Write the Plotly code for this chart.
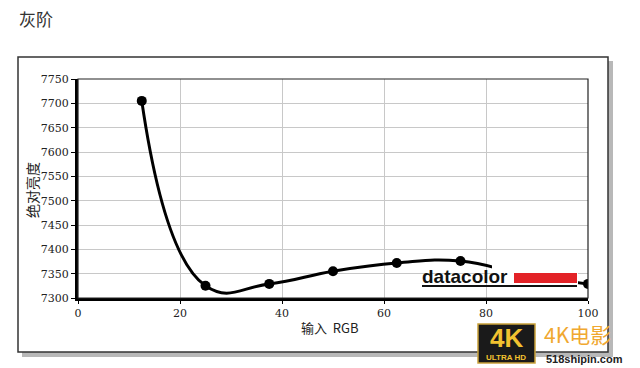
import plotly.graph_objects as go

x_vals = [12.5, 25, 37.5, 50, 62.5, 75, 87.5, 100]
y_vals = [7705, 7325, 7329, 7355, 7372, 7376, 7348, 7329]
x_ticks = [0, 20, 40, 60, 80, 100]
y_ticks = [7300, 7350, 7400, 7450, 7500, 7550, 7600, 7650, 7700, 7750]

W, H = 640, 368
L, R, T, B = 78, 588, 79, 298

def px(xp):
    return (xp - L) / (R - L)

def py(yp):
    return (B - yp) / (B - T)

fig = go.Figure()
fig.add_trace(go.Scatter(
    x=x_vals, y=y_vals, mode="lines+markers",
    line=dict(color="black", width=3, shape="spline", smoothing=1.3),
    marker=dict(color="black", size=10),
    cliponaxis=True, showlegend=False,
))

serif = "DejaVu Serif"
fig.update_layout(
    width=W, height=H,
    margin=dict(l=L, r=W - R, t=T, b=H - B),
    paper_bgcolor="white", plot_bgcolor="white",
    xaxis=dict(range=[0, 100], tickvals=x_ticks, showgrid=True, gridcolor="#c8c8c8",
               gridwidth=1, showline=True, linecolor="black", linewidth=3,
               ticks="outside", ticklen=3, tickcolor="black",
               tickfont=dict(family=serif, size=11, color="#222"), zeroline=False),
    yaxis=dict(range=[7300, 7750], tickvals=y_ticks, showgrid=True, gridcolor="#c8c8c8",
               gridwidth=1, showline=True, linecolor="black", linewidth=3,
               ticks="outside", ticklen=4, tickcolor="black",
               tickfont=dict(family=serif, size=11, color="#222"), zeroline=False),
    font=dict(family="Noto Sans CJK SC", color="#222"),
)

shapes = []
shapes.append(dict(type="rect", xref="paper", yref="paper", layer="below",
                   x0=px(22), x1=px(613), y0=py(357), y1=py(61),
                   fillcolor="#b8b8b8", line=dict(width=0)))
shapes.append(dict(type="rect", xref="paper", yref="paper", layer="below",
                   x0=px(18), x1=px(608), y0=py(352), y1=py(57),
                   fillcolor="white", line=dict(color="#333", width=1.5)))
shapes.append(dict(type="rect", xref="paper", yref="paper", layer="above",
                   x0=0, x1=1, y0=0, y1=1, line=dict(color="#222", width=1.2)))
shapes.append(dict(type="rect", xref="paper", yref="paper", layer="above",
                   x0=px(492), x1=px(578), y0=py(289), y1=py(264),
                   fillcolor="white", line=dict(width=0)))
shapes.append(dict(type="rect", xref="paper", yref="paper", layer="above",
                   x0=px(514), x1=px(577), y0=py(283), y1=py(273),
                   fillcolor="#e32227", line=dict(width=0)))
shapes.append(dict(type="line", xref="paper", yref="paper", layer="above",
                   x0=px(422), x1=px(577), y0=py(286), y1=py(286),
                   line=dict(color="#111", width=2)))
shapes.append(dict(type="rect", xref="paper", yref="paper", layer="above",
                   x0=px(478), x1=px(535), y0=py(363), y1=py(324),
                   fillcolor="#1a1a1a", line=dict(color="#c9a13a", width=1.5)))
fig.update_layout(shapes=shapes)

ann = []
ann.append(dict(text="灰阶", xref="paper", yref="paper", x=px(17), y=py(18),
                xanchor="left", yanchor="middle", showarrow=False,
                font=dict(family="Noto Sans CJK SC", size=17, color="#333")))
ann.append(dict(text="绝对亮度", xref="paper", yref="paper", x=px(32), y=py(190),
                xanchor="center", yanchor="middle", textangle=-90, showarrow=False,
                font=dict(family="Noto Sans CJK SC", size=14, color="#222")))
ann.append(dict(text="输入  RGB", xref="paper", yref="paper", x=px(330), y=py(327),
                xanchor="center", yanchor="middle", showarrow=False,
                font=dict(family="Noto Sans CJK SC", size=13, color="#222")))
ann.append(dict(text="<b>datacolor</b>", xref="paper", yref="paper", x=px(420), y=py(276),
                xanchor="left", yanchor="middle", showarrow=False,
                font=dict(family="Liberation Sans", size=19, color="#111")))
ann.append(dict(text="<b>4K</b>", xref="paper", yref="paper", x=px(506), y=py(338),
                xanchor="center", yanchor="middle", showarrow=False,
                font=dict(family="Liberation Sans", size=26, color="#f2c230")))
ann.append(dict(text="<b>ULTRA HD</b>", xref="paper", yref="paper", x=px(506), y=py(357),
                xanchor="center", yanchor="middle", showarrow=False,
                font=dict(family="Liberation Sans", size=8, color="#f2c230")))
ann.append(dict(text="4K电影", xref="paper", yref="paper", x=px(542), y=py(334),
                xanchor="left", yanchor="middle", showarrow=False,
                font=dict(family="Noto Sans CJK SC", size=21, color="#f0a830")))
ann.append(dict(text="<b>518shipin.com</b>", xref="paper", yref="paper", x=px(544), y=py(359),
                xanchor="left", yanchor="middle", showarrow=False,
                font=dict(family="Liberation Sans", size=11, color="#222")))
fig.update_layout(annotations=ann)

fig.write_html("out.html")
